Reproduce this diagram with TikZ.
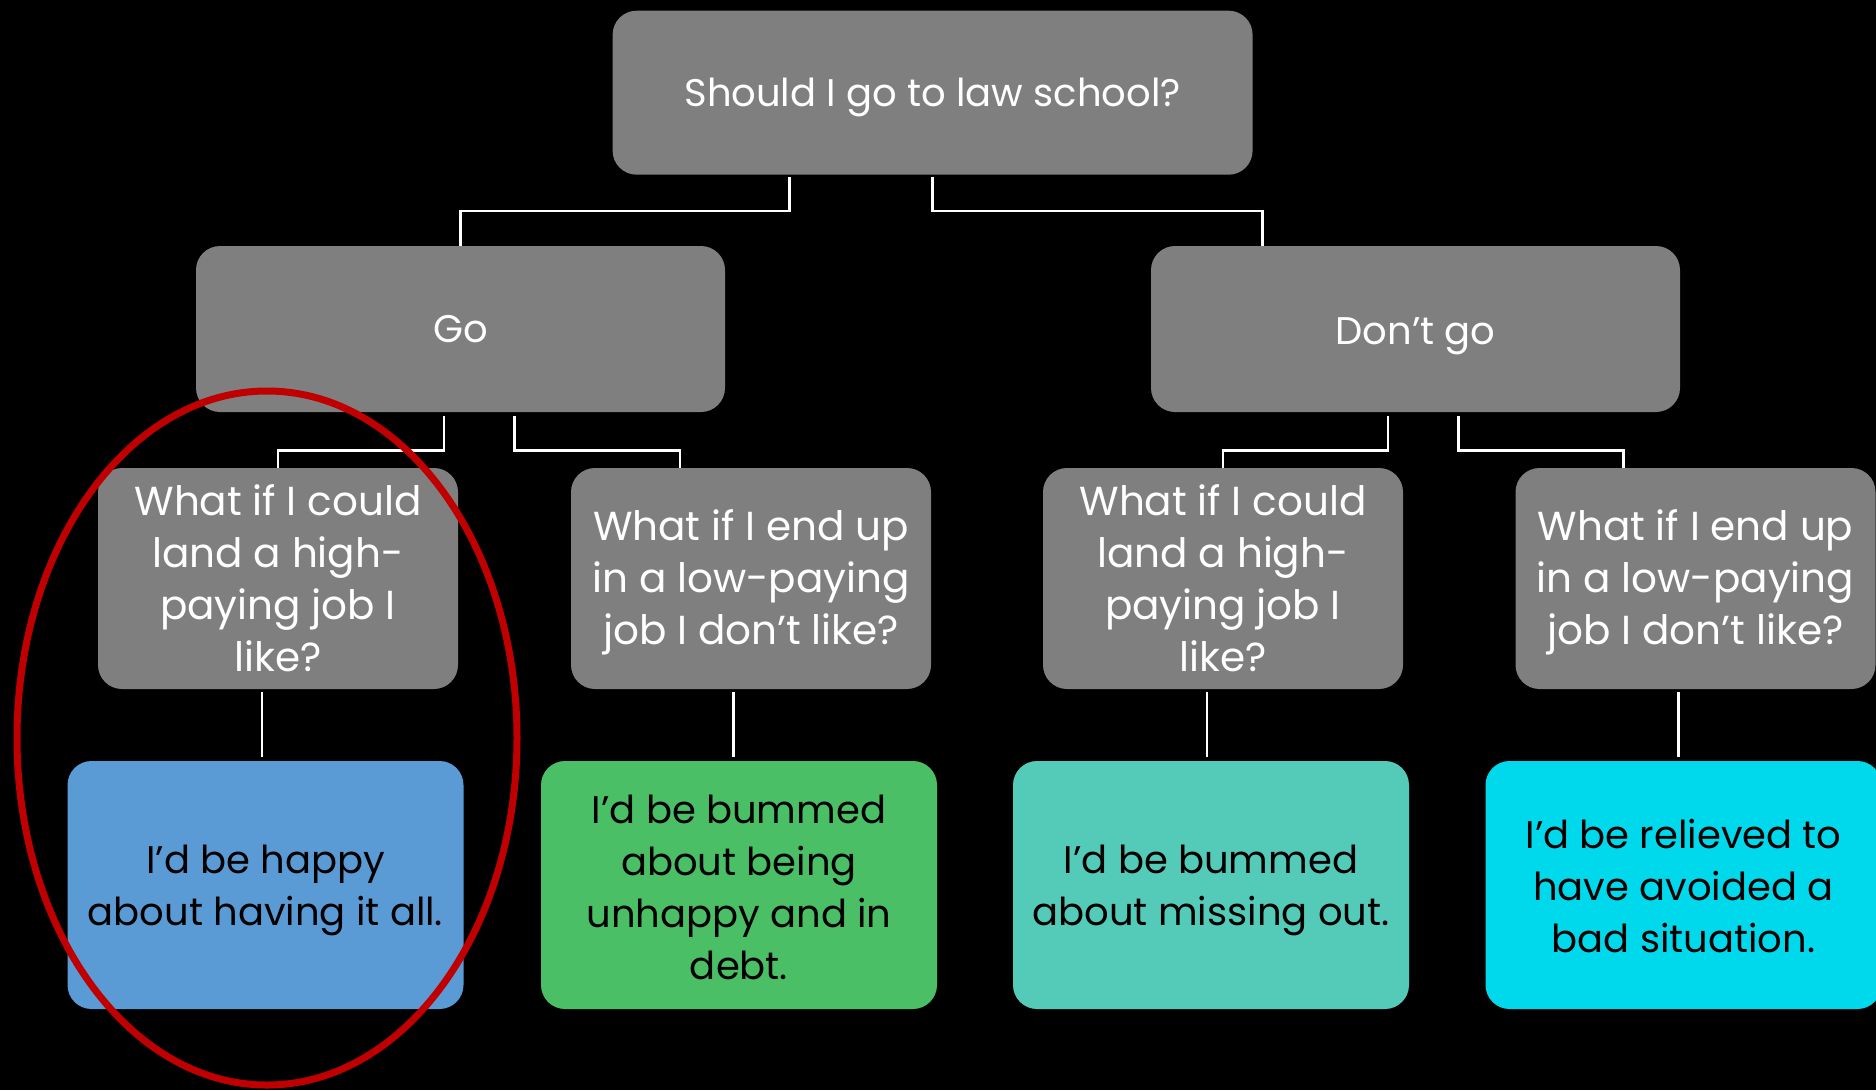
\documentclass[tikz,border=0pt]{standalone}
\usepackage{fontspec}
\setmainfont{Poppins}
\definecolor{boxgray}{HTML}{7F7F7F}
\definecolor{bblue}{HTML}{5B9BD5}
\definecolor{bgreen}{HTML}{4ABF65}
\definecolor{bteal}{HTML}{54CAB8}
\definecolor{bcyan}{HTML}{00D9EC}
\definecolor{ringred}{HTML}{C00000}
\begin{document}
\begin{tikzpicture}[x=1pt,y=-1pt,
  box/.style={rounded corners=24pt, inner sep=0pt},
  qbox/.style={box, fill=boxgray},
  abox/.style={box, minimum width=396pt, minimum height=248pt},
  qbig/.style={qbox, minimum width=360pt, minimum height=221pt},
  ttxt/.style={inner sep=0pt, align=center, text=white, font=\fontsize{38.5}{52}\selectfont},
  qtxt/.style={inner sep=0pt, align=center, text=white, font=\fontsize{40.5}{52}\selectfont},
  atxt/.style={inner sep=0pt, align=center, text=black, font=\fontsize{38.5}{52}\selectfont},
  conn/.style={draw=white, line width=2.5pt}]
\useasboundingbox (0,0) rectangle (1876,1090);
\fill[black] (0,0) rectangle (1876,1090);

\node[qbox, minimum width=640pt, minimum height=164pt] (top) at (932.6,92.7) {};
\node[ttxt, yshift=-5pt] (toptext) at (top.center) {Should I go to law school?};
\node[qbox, minimum width=529pt, minimum height=166pt] (go) at (460.5,329) {};
\node[ttxt] (gotext) at (go.center) {Go};
\node[qbox, minimum width=529pt, minimum height=166pt] (dont) at (1415.5,329) {};
\node[ttxt, yshift=-7pt] (donttext) at (dont.center) {Don’t go};

\node[qbig] (q1) at (278,578.5) {};
\node[qtxt] (q1text) at (q1.center) {What if I could\\land a high-\\paying job I\\like?};
\node[qbig] (q2) at (751,578.5) {};
\node[qtxt, yshift=-4pt] (q2text) at (q2.center) {What if I end up\\in a low-paying\\job I don’t like?};
\node[qbig] (q3) at (1223,578.5) {};
\node[qtxt] (q3text) at (q3.center) {What if I could\\land a high-\\paying job I\\like?};
\node[qbig] (q4) at (1695.5,578.5) {};
\node[qtxt, yshift=-4pt] (q4text) at (q4.center) {What if I end up\\in a low-paying\\job I don’t like?};

\node[abox, fill=bblue] (b1) at (265.5,885) {};
\node[atxt, yshift=-5pt] (b1text) at (b1.center) {I’d be happy\\about having it all.};
\node[abox, fill=bgreen] (b2) at (739,885) {};
\node[atxt, yshift=-2pt] (b2text) at (b2.center) {I’d be bummed\\about being\\unhappy and in\\debt.};
\node[abox, fill=bteal] (b3) at (1211,885) {};
\node[atxt, yshift=-5pt] (b3text) at (b3.center) {I’d be bummed\\about missing out.};
\node[abox, fill=bcyan] (b4) at (1683.5,885) {};
\node[atxt, yshift=-1pt] (b4text) at (b4.center) {I’d be relieved to\\have avoided a\\bad situation.};

\draw[conn] ([xshift=-143pt,yshift=-2pt]top.south) -- ++(0,34) -| (go.north);
\draw[conn] ([yshift=-2pt]top.south) -- ++(0,34) -| ([xshift=-153pt]dont.north);
\draw[conn] ([xshift=-16.6pt,yshift=-4pt]go.south) -- ++(0,34.5) -| (q1.north);
\draw[conn] ([xshift=54pt,yshift=-4pt]go.south) -- ++(0,34.5) -| ([xshift=-71pt]q2.north);
\draw[conn] ([xshift=-27.7pt,yshift=-4pt]dont.south) -- ++(0,34.5) -| (q3.north);
\draw[conn] ([xshift=43pt,yshift=-4pt]dont.south) -- ++(0,34.5) -| ([xshift=-72pt]q4.north);

\draw[conn, shorten <=3pt, shorten >=4pt] ([xshift=-16pt]q1.south) -- ([xshift=-16pt]q1.south |- b1.north);
\draw[conn, shorten <=3pt, shorten >=4pt] ([xshift=-17.6pt]q2.south) -- ([xshift=-17.6pt]q2.south |- b2.north);
\draw[conn, shorten <=3pt, shorten >=4pt] ([xshift=-15.8pt]q3.south) -- ([xshift=-15.8pt]q3.south |- b3.north);
\draw[conn, shorten <=3pt, shorten >=4pt] ([xshift=-17pt]q4.south) -- ([xshift=-17pt]q4.south |- b4.north);

\draw[ringred, line width=7pt] (267,738) ellipse [x radius=250pt, y radius=347pt];
\end{tikzpicture}
\end{document}
